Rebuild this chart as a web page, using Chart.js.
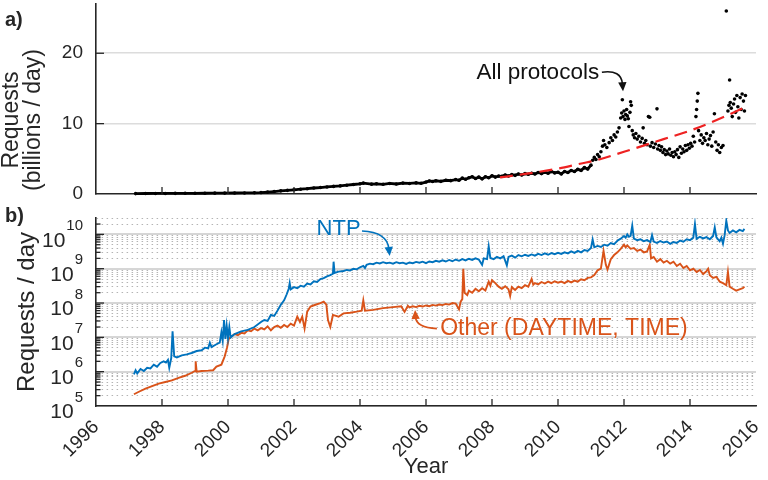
<!DOCTYPE html>
<html><head><meta charset="utf-8">
<script src="https://cdn.jsdelivr.net/npm/chart.js@4.4.1/dist/chart.umd.min.js"></script>
<style>
html,body{margin:0;padding:0;background:#fff;}
#wrap{position:relative;width:768px;height:480px;overflow:hidden;}
canvas{position:absolute;left:0;}
#ca{top:0;}
#cb{top:200px;}
</style></head><body>
<div id="wrap"><canvas id="ca" width="768" height="200"></canvas><canvas id="cb" width="768" height="280"></canvas></div>
<script>
// ---------- DATA ----------
// Panel a) All protocols (billions of requests / day): dense early record
const denseYears = [1997.2,1997.5,1997.8,1998.1,1998.4,1998.7,1999.0,1999.3,1999.6,1999.9,2000.2,2000.5,2000.8,
  2001.0,2001.2,2001.4,2001.6,2001.8,2002.0,2002.2,2002.4,2002.6,2002.8,2003.0,2003.2,2003.4,2003.6,2003.8,2004.0,2004.1,
  2004.35,2004.5,2004.7,2004.9,2005.1,2005.3,
  2005.5,2005.7,2005.85,2006.0,2006.1,2006.2,2006.3,2006.45,2006.6,2006.75,2006.9,
  2007.0,2007.1,2007.2,2007.3,2007.4,2007.5,2007.6,2007.7,2007.8,2007.9,
  2008.0,2008.1,2008.2,2008.3,2008.4,2008.5,2008.6,2008.7,2008.8,2008.9,
  2009.0,2009.1,2009.2,2009.3,2009.4,2009.5,2009.6,2009.7,2009.8,2009.9,
  2010.0,2010.1,2010.2,2010.3,2010.4,2010.5,2010.6,2010.7,2010.8,2010.9,2011.0];
const denseValues = [0.06,0.07,0.08,0.08,0.09,0.1,0.1,0.11,0.12,0.13,0.14,0.15,0.17,
  0.2,0.27,0.35,0.45,0.52,0.6,0.68,0.75,0.85,0.92,1.0,1.08,1.15,1.25,1.35,1.45,1.55,
  1.4,1.45,1.38,1.5,1.42,1.55,
  1.5,1.58,1.52,1.7,1.85,1.78,1.88,1.8,1.95,1.9,2.05,
  1.95,2.25,2.1,2.3,2.45,2.2,2.4,2.15,2.45,2.3,
  2.6,2.4,2.55,2.5,2.7,2.55,2.75,2.65,2.85,2.7,
  2.9,2.8,2.95,2.85,3.05,2.9,3.1,2.95,3.2,3.0,
  3.1,2.85,3.2,3.05,3.35,3.2,3.5,3.35,3.75,3.55,4.1];
// Panel a) scattered record after 2011
const scatterYears = [2011.05,2011.1,2011.15,2011.2,2011.25,2011.3,2011.35,2011.38,2011.42,2011.48,
  2011.55,2011.6,2011.65,2011.7,2011.75,2011.8,2011.85,2011.9,2011.93,2011.95,
  2011.97,2012.0,2012.03,2012.05,2012.08,2012.1,2012.13,2012.15,2012.18,2012.2,
  2012.22,2012.25,2012.28,2012.32,2012.36,2012.4,2012.45,2012.5,2012.55,2012.58,
  2012.62,2012.66,2012.7,2012.74,2012.78,2012.8,2012.85,2012.9,2012.95,2013.0,
  2013.02,2013.06,2013.1,2013.14,2013.18,2013.22,2013.26,2013.3,2013.34,2013.38,
  2013.42,2013.46,2013.5,2013.54,2013.58,2013.62,2013.66,2013.7,2013.74,2013.78,
  2013.82,2013.86,2013.9,2013.94,2013.98,2014.02,2014.06,2014.1,2014.14,2014.18,
  2014.2,2014.22,2014.24,2014.26,2014.3,2014.34,2014.38,2014.42,2014.46,2014.5,
  2014.54,2014.58,2014.62,2014.66,2014.7,2014.74,2014.78,2014.82,2014.86,2014.9,
  2014.95,2015.0,2015.1,2015.15,2015.18,2015.2,2015.22,2015.25,2015.28,2015.32,
  2015.35,2015.38,2015.42,2015.45,2015.48,2015.52,2015.55,2015.58,2015.62,2015.65,2015.68];
const scatterValues = [4.8,5.2,4.9,5.6,5.3,6.0,6.8,7.6,7.0,6.6,
  7.3,8.0,7.6,8.4,8.1,8.8,9.4,10.8,11.5,13.4,
  11.0,11.8,10.6,11.3,12.0,11.1,10.7,9.6,11.6,13.1,
  12.6,9.0,8.4,8.0,8.6,7.8,8.2,7.4,7.9,9.4,
  7.2,7.6,7.0,11.0,10.9,6.8,7.3,6.6,7.1,12.1,
  6.4,6.9,6.2,6.7,5.9,6.3,5.6,6.1,5.7,6.4,
  5.5,5.9,5.3,6.0,5.6,6.3,5.2,6.7,5.8,6.4,
  6.0,6.9,6.2,7.0,6.5,7.2,6.8,8.2,7.4,11.0,
  12.0,13.2,14.3,9.0,7.6,8.4,7.2,8.0,7.6,8.6,
  7.0,7.8,8.3,6.8,8.8,11.4,7.4,6.2,7.0,5.9,
  6.6,6.9,26.0,11.8,12.6,16.2,13.0,12.2,11.0,12.8,
  13.5,11.6,14.0,12.4,10.8,13.7,12.0,14.2,13.2,11.8,14.0];
// Panel a) trend (red dashed)
const trendYears = [2008.24,2009.0,2010.0,2010.67,2011.17,2012.0,2013.2,2014.0,2015.0,2015.7];
const trendValues = [2.35,2.85,3.6,4.3,4.8,6.0,7.8,9.0,10.9,12.4];
const aYTicks = [0,10,20];
const xTicks = [1996,1998,2000,2002,2004,2006,2008,2010,2012,2014,2016];

// Panel b) NTP requests / day
const ntpYears = [1997.15,1997.2,1997.25,1997.35,1997.45,1997.55,1997.65,1997.75,1997.85,1997.95,
  1998.05,1998.12,1998.18,1998.22,1998.28,1998.32,1998.37,1998.45,1998.6,1998.75,1998.9,
  1999.05,1999.2,1999.3,1999.4,1999.45,1999.5,1999.65,1999.75,1999.8,1999.84,1999.88,1999.92,1999.96,
  2000.0,2000.04,2000.08,2000.2,2000.4,2000.6,2000.8,
  2001.0,2001.1,2001.2,2001.3,2001.4,2001.5,2001.6,2001.7,2001.78,2001.84,2001.87,2001.9,
  2002.0,2002.1,2002.2,2002.3,2002.4,2002.5,2002.6,2002.7,2002.8,2002.9,
  2003.0,2003.1,2003.18,2003.2,2003.23,2003.35,2003.5,2003.6,2003.7,2003.8,2003.9,2004.0,2004.1,2004.15,
  2004.2,2004.3,2004.4,2004.5,2004.6,2004.7,2004.8,2004.9,2005.0,2005.1,2005.2,2005.3,2005.4,2005.5,2005.6,2005.7,2005.8,2005.9,
  2006.0,2006.1,2006.2,2006.3,2006.4,2006.5,2006.6,2006.7,2006.8,2006.9,
  2007.0,2007.1,2007.2,2007.3,2007.4,2007.5,2007.6,2007.7,2007.75,2007.85,2007.9,2007.95,
  2008.05,2008.15,2008.25,2008.35,2008.45,2008.5,2008.6,2008.7,2008.8,2008.9,
  2009.0,2009.1,2009.2,2009.3,2009.4,2009.5,2009.6,2009.7,2009.8,2009.9,
  2010.0,2010.1,2010.2,2010.3,2010.4,2010.5,2010.6,2010.7,2010.8,2010.9,
  2011.0,2011.05,2011.1,2011.2,2011.3,2011.4,2011.5,2011.6,2011.7,2011.8,2011.9,
  2012.0,2012.05,2012.1,2012.15,2012.2,2012.25,2012.3,2012.4,2012.5,2012.6,2012.7,2012.8,2012.85,2012.9,
  2013.0,2013.1,2013.2,2013.3,2013.4,2013.5,2013.6,2013.7,2013.8,2013.9,
  2014.0,2014.1,2014.15,2014.2,2014.3,2014.4,2014.5,2014.6,2014.7,2014.75,2014.8,2014.9,2014.95,
  2015.0,2015.05,2015.1,2015.15,2015.2,2015.3,2015.4,2015.5,2015.6,2015.65];
const ntpValues = [8.3e5,1.1e6,8.9e5,1.2e6,1.05e6,1.3e6,1.25e6,1.6e6,1.4e6,1.8e6,
  2.0e6,1.85e6,2.2e6,1.3e6,2.5e6,1.5e7,2.8e6,2.6e6,3.0e6,3.2e6,3.5e6,
  4.0e6,4.2e6,5.0e6,4.8e6,7.0e6,5.2e6,6.3e6,7.0e6,1.4e7,8.0e6,3.2e7,9.0e6,2.2e7,
  9.5e6,2.0e7,1.0e7,1.25e7,1.5e7,1.65e7,2.0e7,
  2.8e7,3.2e7,3.0e7,4.5e7,4.2e7,6.0e7,8.9e7,1.2e8,1.8e8,2.6e8,3.8e8,2.5e8,
  2.9e8,2.7e8,3.2e8,3.0e8,3.7e8,3.5e8,4.3e8,4.1e8,5.0e8,5.3e8,
  6.0e8,6.5e8,7.2e8,1.6e9,7.5e8,8.2e8,8.6e8,9.2e8,8.9e8,1.0e9,9.6e8,1.1e9,1.2e9,1.05e9,
  1.3e9,1.4e9,1.35e9,1.5e9,1.42e9,1.55e9,1.45e9,1.5e9,1.4e9,1.55e9,1.45e9,1.5e9,1.38e9,1.52e9,1.45e9,1.58e9,1.5e9,1.6e9,
  1.45e9,1.62e9,1.55e9,1.7e9,1.6e9,1.75e9,1.62e9,1.8e9,1.65e9,1.85e9,
  1.7e9,1.9e9,1.75e9,1.95e9,1.8e9,2.0e9,1.85e9,1.3e9,2.0e9,1.9e9,4.5e9,2.05e9,
  1.9e9,2.2e9,2.0e9,2.3e9,1.25e9,2.2e9,2.4e9,2.1e9,2.5e9,2.3e9,
  2.55e9,2.35e9,2.6e9,2.4e9,2.7e9,2.5e9,2.8e9,2.55e9,2.85e9,2.65e9,
  2.9e9,2.7e9,3.0e9,2.8e9,3.2e9,2.9e9,3.3e9,3.0e9,3.5e9,3.3e9,
  4.0e9,7.1e9,4.2e9,4.6e9,4.3e9,5.0e9,4.7e9,5.6e9,5.2e9,6.5e9,7.5e9,
  8.9e9,8.0e9,1.0e10,8.5e9,9.0e9,1.8e10,7.5e9,6.8e9,7.2e9,6.3e9,6.8e9,6.0e9,9.5e9,6.2e9,
  5.6e9,6.4e9,5.8e9,6.2e9,5.3e9,6.0e9,5.6e9,6.6e9,6.1e9,7.2e9,
  6.8e9,8.0e9,2.0e10,7.4e9,8.5e9,7.6e9,8.3e9,7.2e9,9.0e9,1.6e10,8.2e9,6.3e9,8.0e9,
  5.4e9,9.5e9,2.5e10,1.3e10,1.1e10,1.3e10,1.15e10,1.35e10,1.25e10,1.45e10];
// Panel b) Other (DAYTIME, TIME) requests / day
const otherYears = [1997.15,1997.3,1997.5,1997.7,1997.9,1998.1,1998.3,1998.5,1998.7,1998.9,
  1999.0,1999.02,1999.05,1999.2,1999.4,1999.55,1999.65,1999.8,1999.9,1999.97,2000.02,
  2000.1,2000.2,2000.3,2000.4,2000.5,2000.6,2000.7,2000.8,2000.9,
  2001.0,2001.1,2001.2,2001.3,2001.4,2001.5,2001.6,2001.7,2001.8,2001.9,
  2002.0,2002.1,2002.18,2002.25,2002.32,2002.4,2002.5,2002.65,2002.8,2002.9,2002.98,
  2003.03,2003.1,2003.18,2003.35,2003.5,2003.7,2003.9,2004.05,2004.1,2004.15,2004.4,2004.7,
  2005.0,2005.25,2005.35,2005.45,2005.5,2005.6,2005.7,2005.8,2005.9,
  2006.0,2006.1,2006.2,2006.3,2006.4,2006.5,2006.6,2006.7,2006.8,2006.9,
  2007.0,2007.05,2007.1,2007.13,2007.17,2007.25,2007.3,2007.4,2007.5,2007.6,2007.7,2007.8,2007.9,2007.95,
  2008.0,2008.1,2008.2,2008.3,2008.4,2008.5,2008.55,2008.6,2008.7,2008.8,2008.9,
  2009.0,2009.1,2009.2,2009.25,2009.3,2009.4,2009.5,2009.6,2009.7,2009.8,2009.9,
  2010.0,2010.1,2010.2,2010.3,2010.4,2010.5,2010.6,2010.7,2010.8,2010.9,
  2011.0,2011.1,2011.2,2011.3,2011.38,2011.45,2011.5,2011.6,2011.7,2011.8,2011.9,
  2012.0,2012.05,2012.1,2012.2,2012.3,2012.4,2012.5,2012.6,2012.7,2012.78,2012.82,2012.9,
  2013.0,2013.1,2013.2,2013.3,2013.4,2013.5,2013.6,2013.7,2013.8,2013.9,
  2014.0,2014.1,2014.2,2014.3,2014.4,2014.5,2014.55,2014.6,2014.7,2014.8,2014.9,
  2015.0,2015.1,2015.15,2015.2,2015.3,2015.4,2015.5,2015.6,2015.65];
const otherValues = [2.2e5,2.6e5,3.2e5,3.8e5,4.5e5,5.0e5,5.6e5,6.6e5,7.6e5,9.3e5,
  1.05e6,2.0e6,1.0e6,1.05e6,1.07e6,1.1e6,1.4e6,1.6e6,2.8e6,5.0e6,8.9e6,
  1.05e7,1.25e7,1.15e7,1.35e7,1.3e7,1.6e7,1.5e7,1.8e7,1.6e7,
  1.85e7,1.7e7,2.1e7,1.6e7,2.0e7,2.2e7,1.9e7,2.3e7,2.0e7,2.5e7,
  2.2e7,4.0e7,2.8e7,4.0e7,1.8e7,5.6e7,7.9e7,8.9e7,1.0e8,1.1e8,8.9e7,
  3.2e7,2.0e7,4.5e7,4.0e7,5.0e7,5.2e7,5.6e7,6.0e7,1.2e8,6.0e7,6.3e7,7.1e7,
  7.6e7,8.0e7,5.5e7,8.3e7,7.4e7,8.0e7,7.6e7,8.3e7,7.9e7,
  8.5e7,8.1e7,8.8e7,8.4e7,9.0e7,8.7e7,9.4e7,9.0e7,1.0e8,9.6e7,
  6.5e7,1.1e8,1.3e8,1.0e9,2.0e8,1.7e8,2.3e8,2.0e8,2.6e8,2.2e8,2.7e8,2.3e8,4.2e8,3.2e8,
  4.6e8,3.8e8,3.0e8,2.6e8,3.1e8,2.5e8,1.6e8,2.9e8,2.4e8,3.0e8,2.7e8,
  3.3e8,3.0e8,5.0e8,3.4e8,3.8e8,3.5e8,4.1e8,3.7e8,4.2e8,3.8e8,4.3e8,
  3.9e8,4.2e8,3.8e8,4.4e8,4.0e8,4.5e8,4.2e8,4.9e8,4.6e8,5.4e8,
  5.6e8,6.5e8,9.0e8,1.0e9,3.3e9,1.3e9,9.5e8,1.9e9,2.5e9,3.0e9,3.8e9,
  5.0e9,4.2e9,4.8e9,3.8e9,4.0e9,3.3e9,3.6e9,3.0e9,3.2e9,5.0e9,2.0e9,2.2e9,
  1.6e9,1.9e9,1.5e9,1.7e9,1.4e9,1.6e9,1.2e9,1.4e9,1.05e9,1.2e9,
  9.0e8,1.0e9,8.0e8,9.2e8,7.0e8,8.5e8,1.0e9,6.5e8,5.4e8,5.8e8,4.2e8,
  3.8e8,3.3e8,8.0e8,3.0e8,2.6e8,2.3e8,2.5e8,2.7e8,3.0e8];
const bDecades = [1e5,1e6,1e7,1e8,1e9,1e10];
const bExponents = ['5','6','7','8','9','10'];
const bMax = 3e10;

// ---------- STYLE ----------
const FONT = "'Liberation Sans', Arial, Helvetica, sans-serif";
const INK = '#262626';
const NTP_COLOR = '#0072BD';
const OTHER_COLOR = '#D95319';
const LINE_END_YEAR = 2011.0; // dense dots drawn joined up to here

function pts(xs, ys){ return xs.map((x,i)=>({x:x, y:ys[i]})); }

const bTickValues = [];
bDecades.forEach(d => { for (let m=1; m<=9; m++){ const v = m*d; if (v <= bMax*1.0001) bTickValues.push(v); } });
const isDecade = v => bDecades.some(d => Math.abs(v/d - 1) < 1e-6);

function drawArrow(ctx, p0, c, p1, color){
  const ang = Math.atan2(p1.y - c.y, p1.x - c.x);
  const L = 9, W = 4.2;
  const e = {x: p1.x - Math.cos(ang)*L*0.8, y: p1.y - Math.sin(ang)*L*0.8};
  ctx.strokeStyle = color; ctx.fillStyle = color; ctx.lineWidth = 1.6;
  ctx.beginPath(); ctx.moveTo(p0.x, p0.y); ctx.quadraticCurveTo(c.x, c.y, e.x, e.y); ctx.stroke();
  ctx.beginPath();
  ctx.moveTo(p1.x, p1.y);
  ctx.lineTo(p1.x - Math.cos(ang)*L - Math.sin(ang)*W, p1.y - Math.sin(ang)*L + Math.cos(ang)*W);
  ctx.lineTo(p1.x - Math.cos(ang)*L + Math.sin(ang)*W, p1.y - Math.sin(ang)*L - Math.cos(ang)*W);
  ctx.closePath(); ctx.fill();
}

const decor = {
  id: 'decor',
  afterDatasetsDraw(chart, args, o){
    const ctx = chart.ctx, xs = chart.scales.x, ys = chart.scales.y, a = chart.chartArea;
    const P = (x, y) => ({x: xs.getPixelForValue(x), y: ys.getPixelForValue(y)});
    ctx.save();
    ctx.strokeStyle = INK; ctx.lineWidth = 1.3;
    (o.xTicks || []).forEach(v => {
      const p = xs.getPixelForValue(v);
      ctx.beginPath(); ctx.moveTo(p, a.bottom); ctx.lineTo(p, a.bottom - 7); ctx.stroke();
    });
    (o.yTicks || []).forEach(v => {
      const p = ys.getPixelForValue(v);
      const len = (o.yMajor ? (o.yMajor(v) ? 8 : 4.5) : 8);
      ctx.beginPath(); ctx.moveTo(a.left, p); ctx.lineTo(a.left + len, p); ctx.stroke();
    });
    (o.arrows || []).forEach(ar => drawArrow(ctx, P(ar.from[0], ar.from[1]), P(ar.ctrl[0], ar.ctrl[1]), P(ar.to[0], ar.to[1]), ar.color));
    (o.texts || []).forEach(t => {
      const p = P(t.x, t.y);
      ctx.font = t.font; ctx.fillStyle = t.color; ctx.textAlign = 'center'; ctx.textBaseline = 'middle';
      ctx.fillText(t.text, p.x, p.y);
    });
    ctx.restore();
  },
  afterDraw(chart, args, o){
    const ctx = chart.ctx, ys = chart.scales.y;
    ctx.save();
    if (o.letter){
      ctx.font = 'bold 20px ' + FONT; ctx.fillStyle = INK; ctx.textAlign = 'left'; ctx.textBaseline = 'middle';
      ctx.fillText(o.letter.text, o.letter.x, o.letter.y);
    }
    if (o.yTitle){
      const a = chart.chartArea;
      o.yTitle.lines.forEach(l => {
        ctx.save();
        ctx.translate(l.x, a.bottom - o.yTitle.fromBottom);
        ctx.rotate(-Math.PI/2);
        ctx.font = o.yTitle.font; ctx.fillStyle = INK; ctx.textAlign = 'center'; ctx.textBaseline = 'middle';
        ctx.fillText(l.text, 0, 0);
        ctx.restore();
      });
    }
    if (o.logLabels){
      const right = ys.right - 13;
      o.logLabels.values.forEach((v, i) => {
        const p = ys.getPixelForValue(v);
        const ex = o.logLabels.exps[i];
        ctx.fillStyle = INK;
        ctx.font = '15px ' + FONT;
        const ew = ctx.measureText(ex).width;
        ctx.textAlign = 'right'; ctx.textBaseline = 'middle';
        ctx.fillText(ex, right, p - 8.5);
        ctx.font = '21px ' + FONT;
        ctx.fillText('10', right - ew - 1, p + 6.5);
      });
    }
    ctx.restore();
  }
};

Chart.defaults.font.family = FONT;
Chart.defaults.color = INK;

// ---------- PANEL A ----------
new Chart(document.getElementById('ca'), {
  type: 'scatter',
  data: { datasets: [
    { label: 'All protocols', data: pts(denseYears.concat(scatterYears), denseValues.concat(scatterValues)), showLine: true,
      borderColor: '#000', backgroundColor: '#000', borderWidth: 2.8, pointRadius: 1.8, pointBorderWidth: 0,
      segment: { borderColor: c => (c.p1.parsed.x > LINE_END_YEAR ? 'rgba(0,0,0,0)' : '#000') }, clip: false, order: 2 },
    { label: 'Trend', data: pts(trendYears, trendValues), showLine: true, borderColor: '#ee2222',
      borderWidth: 2.2, borderDash: [13, 7], pointRadius: 0, cubicInterpolationMode: 'monotone', order: 1 }
  ]},
  options: {
    responsive: false, animation: false, events: [],
    layout: { padding: { left: 0, right: 12, top: 3, bottom: 0 } },
    plugins: { legend: { display: false }, tooltip: { enabled: false },
      decor: {
        xTicks: xTicks.slice(1, -1), yTicks: [10, 20],
        letter: { text: 'a)', x: 5, y: 20 },
        yTitle: { font: '23px ' + FONT, fromBottom: 74, lines: [ { text: 'Requests', x: 12 }, { text: '(billions / day)', x: 34 } ] },
        texts: [ { text: 'All protocols', x: 2009.39, y: 17.25, font: '22.5px ' + FONT, color: '#111' } ],
        arrows: [ { from: [2011.33, 17.3], ctrl: [2011.92, 17.7], to: [2011.97, 14.6], color: '#111' } ]
      }
    },
    scales: {
      x: { type: 'linear', min: 1996, max: 2016,
        afterBuildTicks: s => { s.ticks = xTicks.map(v => ({ value: v })); },
        afterFit: s => { s.height = 6; s.paddingLeft = 0; s.paddingRight = 0; },
        ticks: { display: false }, grid: { display: false },
        border: { display: true, color: INK, width: 1.6 } },
      y: { type: 'linear', min: 0, max: 27,
        afterBuildTicks: s => { s.ticks = aYTicks.map(v => ({ value: v })); },
        afterFit: s => { s.width = 96; s.paddingTop = 0; s.paddingBottom = 0; },
        ticks: { font: { size: 19 }, color: INK, padding: 13, callback: v => String(v) },
        grid: { drawTicks: false, color: c => (c.tick && c.tick.value === 0 ? 'rgba(0,0,0,0)' : '#dcdcdc'), lineWidth: 1.6 },
        border: { display: true, color: INK, width: 1.6 } }
    }
  },
  plugins: [decor]
});

// ---------- PANEL B ----------
new Chart(document.getElementById('cb'), {
  type: 'scatter',
  data: { datasets: [
    { label: 'NTP', data: pts(ntpYears, ntpValues), showLine: true, borderColor: NTP_COLOR,
      borderWidth: 1.9, pointRadius: 0, order: 1 },
    { label: 'Other (DAYTIME, TIME)', data: pts(otherYears, otherValues), showLine: true, borderColor: OTHER_COLOR,
      borderWidth: 1.9, pointRadius: 0, order: 2 }
  ]},
  options: {
    responsive: false, animation: false, events: [],
    layout: { padding: { left: 0, right: 12, top: 18, bottom: 0 } },
    plugins: { legend: { display: false }, tooltip: { enabled: false },
      decor: {
        xTicks: xTicks.slice(1, -1), yTicks: bTickValues.filter(v => v > bDecades[0] && v < bMax), yMajor: isDecade,
        letter: { text: 'b)', x: 5, y: 16 },
        logLabels: { values: bDecades, exps: bExponents },
        texts: [
          { text: 'NTP', x: 2003.35, y: 1.45e10, font: '22px ' + FONT, color: NTP_COLOR },
          { text: 'Other (DAYTIME, TIME)', x: 2010.18, y: 1.8e7, font: '23px ' + FONT, color: OTHER_COLOR }
        ],
        arrows: [
          { from: [2004.06, 1.26e10], ctrl: [2004.82, 1.18e10], to: [2004.9, 2.35e9], color: NTP_COLOR },
          { from: [2006.33, 1.8e7], ctrl: [2005.7, 1.95e7], to: [2005.67, 6.3e7], color: OTHER_COLOR }
        ]
      }
    },
    scales: {
      x: { type: 'linear', min: 1996, max: 2016,
        afterBuildTicks: s => { s.ticks = xTicks.map(v => ({ value: v })); },
        afterFit: s => { s.height = 74; s.paddingLeft = 0; s.paddingRight = 0; },
        ticks: { font: { size: 19 }, color: INK, padding: 2, minRotation: 45, maxRotation: 45, autoSkip: false, callback: v => String(v) },
        grid: { display: false },
        border: { display: true, color: INK, width: 1.6 },
        title: { display: true, text: 'Year', font: { size: 22 }, color: INK, padding: { top: 0, bottom: 0 } } },
      y: { type: 'logarithmic', min: 1e5, max: bMax,
        afterBuildTicks: s => { s.ticks = bTickValues.map(v => ({ value: v, major: isDecade(v) })); },
        afterFit: s => { s.width = 96; s.paddingTop = 0; s.paddingBottom = 0; },
        ticks: { display: false, autoSkip: false },
        grid: { drawTicks: false,
          color: c => (c.tick && isDecade(c.tick.value) ? '#d6d6d6' : '#b4b4b4'),
          lineWidth: c => (c.tick && isDecade(c.tick.value) ? 2 : 1) },
        border: { display: true, color: INK, width: 1.6,
          dash: c => (c.tick && !isDecade(c.tick.value) ? [1.5, 3.5] : []) },
        title: { display: true, text: 'Requests / day', font: { size: 24 }, color: INK, padding: { top: 13, bottom: 0 } } }
    }
  },
  plugins: [decor]
});
</script>
</body></html>
